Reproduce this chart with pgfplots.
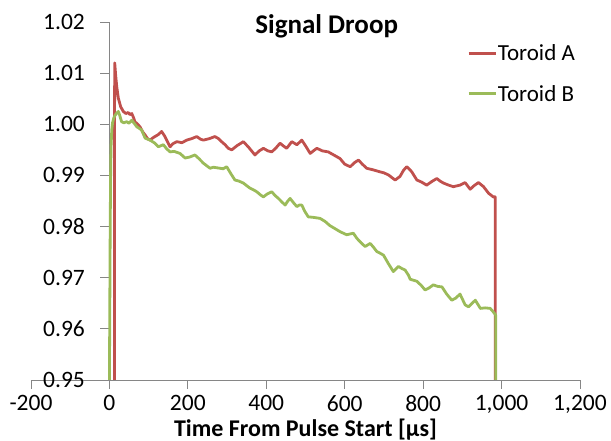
\documentclass[border=0pt]{standalone}
\usepackage{fontspec}
\setmainfont{Carlito}
\usepackage{pgfplots}
\pgfplotsset{compat=1.18}

\definecolor{redA}{RGB}{192,80,77}
\definecolor{greenB}{RGB}{155,187,89}
\definecolor{axgray}{RGB}{134,134,134}

\begin{document}
\begin{tikzpicture}
\begin{axis}[
  name=ax,
  scale only axis,
  width=549pt, height=358pt,
  xmin=-200, xmax=1200,
  ymin=0.95, ymax=1.02,
  axis x line*=bottom,
  axis y line*=center,
  hide obscured x ticks=false,
  hide obscured y ticks=false,
  xtick={-200,0,200,400,600,800,1000,1200},
  ytick={0.95,0.96,0.97,0.98,0.99,1.00,1.01,1.02},
  tick align=outside,
  major tick length=9pt,
  axis line style={draw=axgray, line width=0.8pt},
  tick style={draw=axgray, line width=0.8pt},
  minor tick num=0,
  /pgf/number format/assume math mode=true,
  ticklabel style={font=\fontsize{23.5}{23.5}\selectfont},
  yticklabel style={/pgf/number format/fixed, /pgf/number format/fixed zerofill,
    /pgf/number format/precision=2, anchor=east, xshift=-12pt},
  xticklabel style={/pgf/number format/1000 sep={,}, yshift=-3pt},
  xlabel={\bfseries Time From Pulse Start [µs]},
  xlabel style={font=\fontsize{24}{24}\selectfont, yshift=2pt},
  legend style={
    at={(0.794,0.94)}, anchor=north west,
    draw=none, fill=none, inner sep=0pt,
    font=\fontsize{23}{23}\selectfont,
    row sep=21pt,
    /tikz/every even column/.append style={column sep=0pt},
    nodes={inner sep=1pt},
  },
  legend cell align=left,
  legend image code/.code={\draw[#1] (0pt,0pt) -- (27pt,0pt);},
  every axis plot/.append style={line width=2.8pt, line join=round},
  clip=true,
]
% Toroid A
\addplot[redA] coordinates {
(13,0.95) (13,1.0) (13.5,1.012) (16,1.0095) (18.6,1.0074) (22.7,1.0051)
(28.8,1.0034) (35.5,1.0025) (42,1.0021) (48,1.0023) (52,1.0019) (57,1.0021)
(62,1.0012) (65,1.0005) (72,1.0) (78,0.9995) (85,0.9985) (91,0.9979)
(97,0.9972) (103.6,0.9969) (110,0.9973) (116,0.9976) (125,0.9980) (133,0.9986)
(140,0.9978) (146,0.9969) (154.6,0.9956) (162,0.9962) (171.7,0.9966) (185,0.9964)
(197,0.9969) (210,0.9972) (222.7,0.9976) (232,0.9971) (239.5,0.9969) (255,0.9972)
(269,0.9976) (278,0.9972) (286,0.9966) (295,0.9960) (303,0.9953) (312,0.9950)
(325,0.9958) (341.6,0.9966) (355,0.9955) (371,0.9940) (382,0.9948) (392.6,0.9953)
(404,0.9948) (414,0.9946) (425,0.9954) (435,0.9963) (443,0.9958) (452,0.9953)
(465,0.9966) (478,0.9960) (490.6,0.9969) (500,0.9958) (512,0.9943) (520,0.9948)
(529,0.9953) (543,0.9948) (558,0.9946) (572,0.9940) (588,0.9933) (600,0.9922)
(614,0.9917) (625,0.9925) (635,0.9930) (645,0.9922) (656,0.9914) (672,0.9911)
(690,0.9907) (700,0.9905) (711.5,0.9901) (720,0.9896) (728.6,0.9891) (741,0.9898)
(750,0.9910) (758,0.9917) (764,0.9913) (771,0.9907) (784,0.9891) (796,0.9887)
(809,0.9881) (822,0.9888) (835,0.9894) (843,0.9889) (852,0.9885) (865,0.9881)
(877,0.9878) (894,0.9881) (907,0.9886) (920,0.9873) (930,0.9880) (941,0.9886)
(954,0.9878) (967,0.9865) (979,0.9858) (984,0.9858) (984,0.95)
};
\addlegendentry{Toroid A}
% Toroid B
\addplot[greenB] coordinates {
(0,0.95) (1,0.965) (2,0.98) (3,0.99) (4,0.9955) (6,0.9989) (8,1.0003) (11,1.0012)
(14,1.0017) (18.6,1.0022) (22.7,1.0025) (26,1.0018) (31,1.0005) (37,1.0003)
(44,1.0005) (50,1.0002) (57,1.0008) (63,1.0002) (70,0.9995) (76,0.9992)
(82,0.9989) (87,0.9980) (91,0.9973) (97,0.9971) (103.6,0.9969) (110,0.9966)
(116,0.9963) (125,0.9956) (131,0.9958) (137.5,0.9960) (146,0.9952) (154.6,0.9946)
(165,0.9947) (180,0.9943) (193,0.9934) (205,0.9936) (218,0.9940) (228,0.9933)
(239.5,0.9924) (248,0.9919) (256.6,0.9914) (265,0.9916) (282,0.9914) (290,0.9913)
(299,0.9917) (310,0.9903) (320,0.9891) (330,0.9889) (341.6,0.9885) (350,0.9880)
(358.7,0.9875) (367,0.9872) (375.8,0.9868) (385,0.9862) (392.6,0.9858) (403,0.9864)
(414,0.9868) (422,0.9861) (431,0.9855) (440,0.9848) (448,0.9842) (455,0.9850)
(460.7,0.9855) (470,0.9846) (478,0.9839) (484,0.9842) (490.6,0.9842) (498,0.9830)
(507,0.9819) (520,0.9818) (537,0.9816) (550,0.9810) (562,0.9802) (575,0.9796)
(588,0.9790) (605,0.9784) (622,0.9787) (631,0.9777) (642,0.9768) (652,0.9761)
(665,0.9767) (673,0.9760) (682,0.9751) (690,0.9748) (699,0.9744) (711,0.9728)
(724,0.9712) (737,0.9722) (745.6,0.9718) (754,0.9715) (762.5,0.9705) (767,0.9697)
(784,0.9693) (795,0.9685) (805,0.9676) (815,0.9680) (826,0.9686) (837,0.9683)
(848,0.9682) (860,0.9668) (873,0.9656) (883,0.9660) (894,0.9668) (907,0.9647)
(915.6,0.9643) (925,0.9650) (933,0.9656) (946,0.9640) (958,0.9641) (971,0.9640)
(978,0.9634) (985,0.9627) (985,0.95)
};
\addlegendentry{Toroid B}
\coordinate (T) at (rel axis cs:0.5386,0.989);
\coordinate (SW) at (rel axis cs:0,0);
\coordinate (NE) at (rel axis cs:1,1);
\end{axis}
\node[font=\bfseries\fontsize{27}{27}\selectfont] at (T) {Signal Droop};
\pgfresetboundingbox
\path[use as bounding box] ([shift={(-31pt,-61pt)}]SW) rectangle ([shift={(31pt,22pt)}]NE);
\end{tikzpicture}
\end{document}
